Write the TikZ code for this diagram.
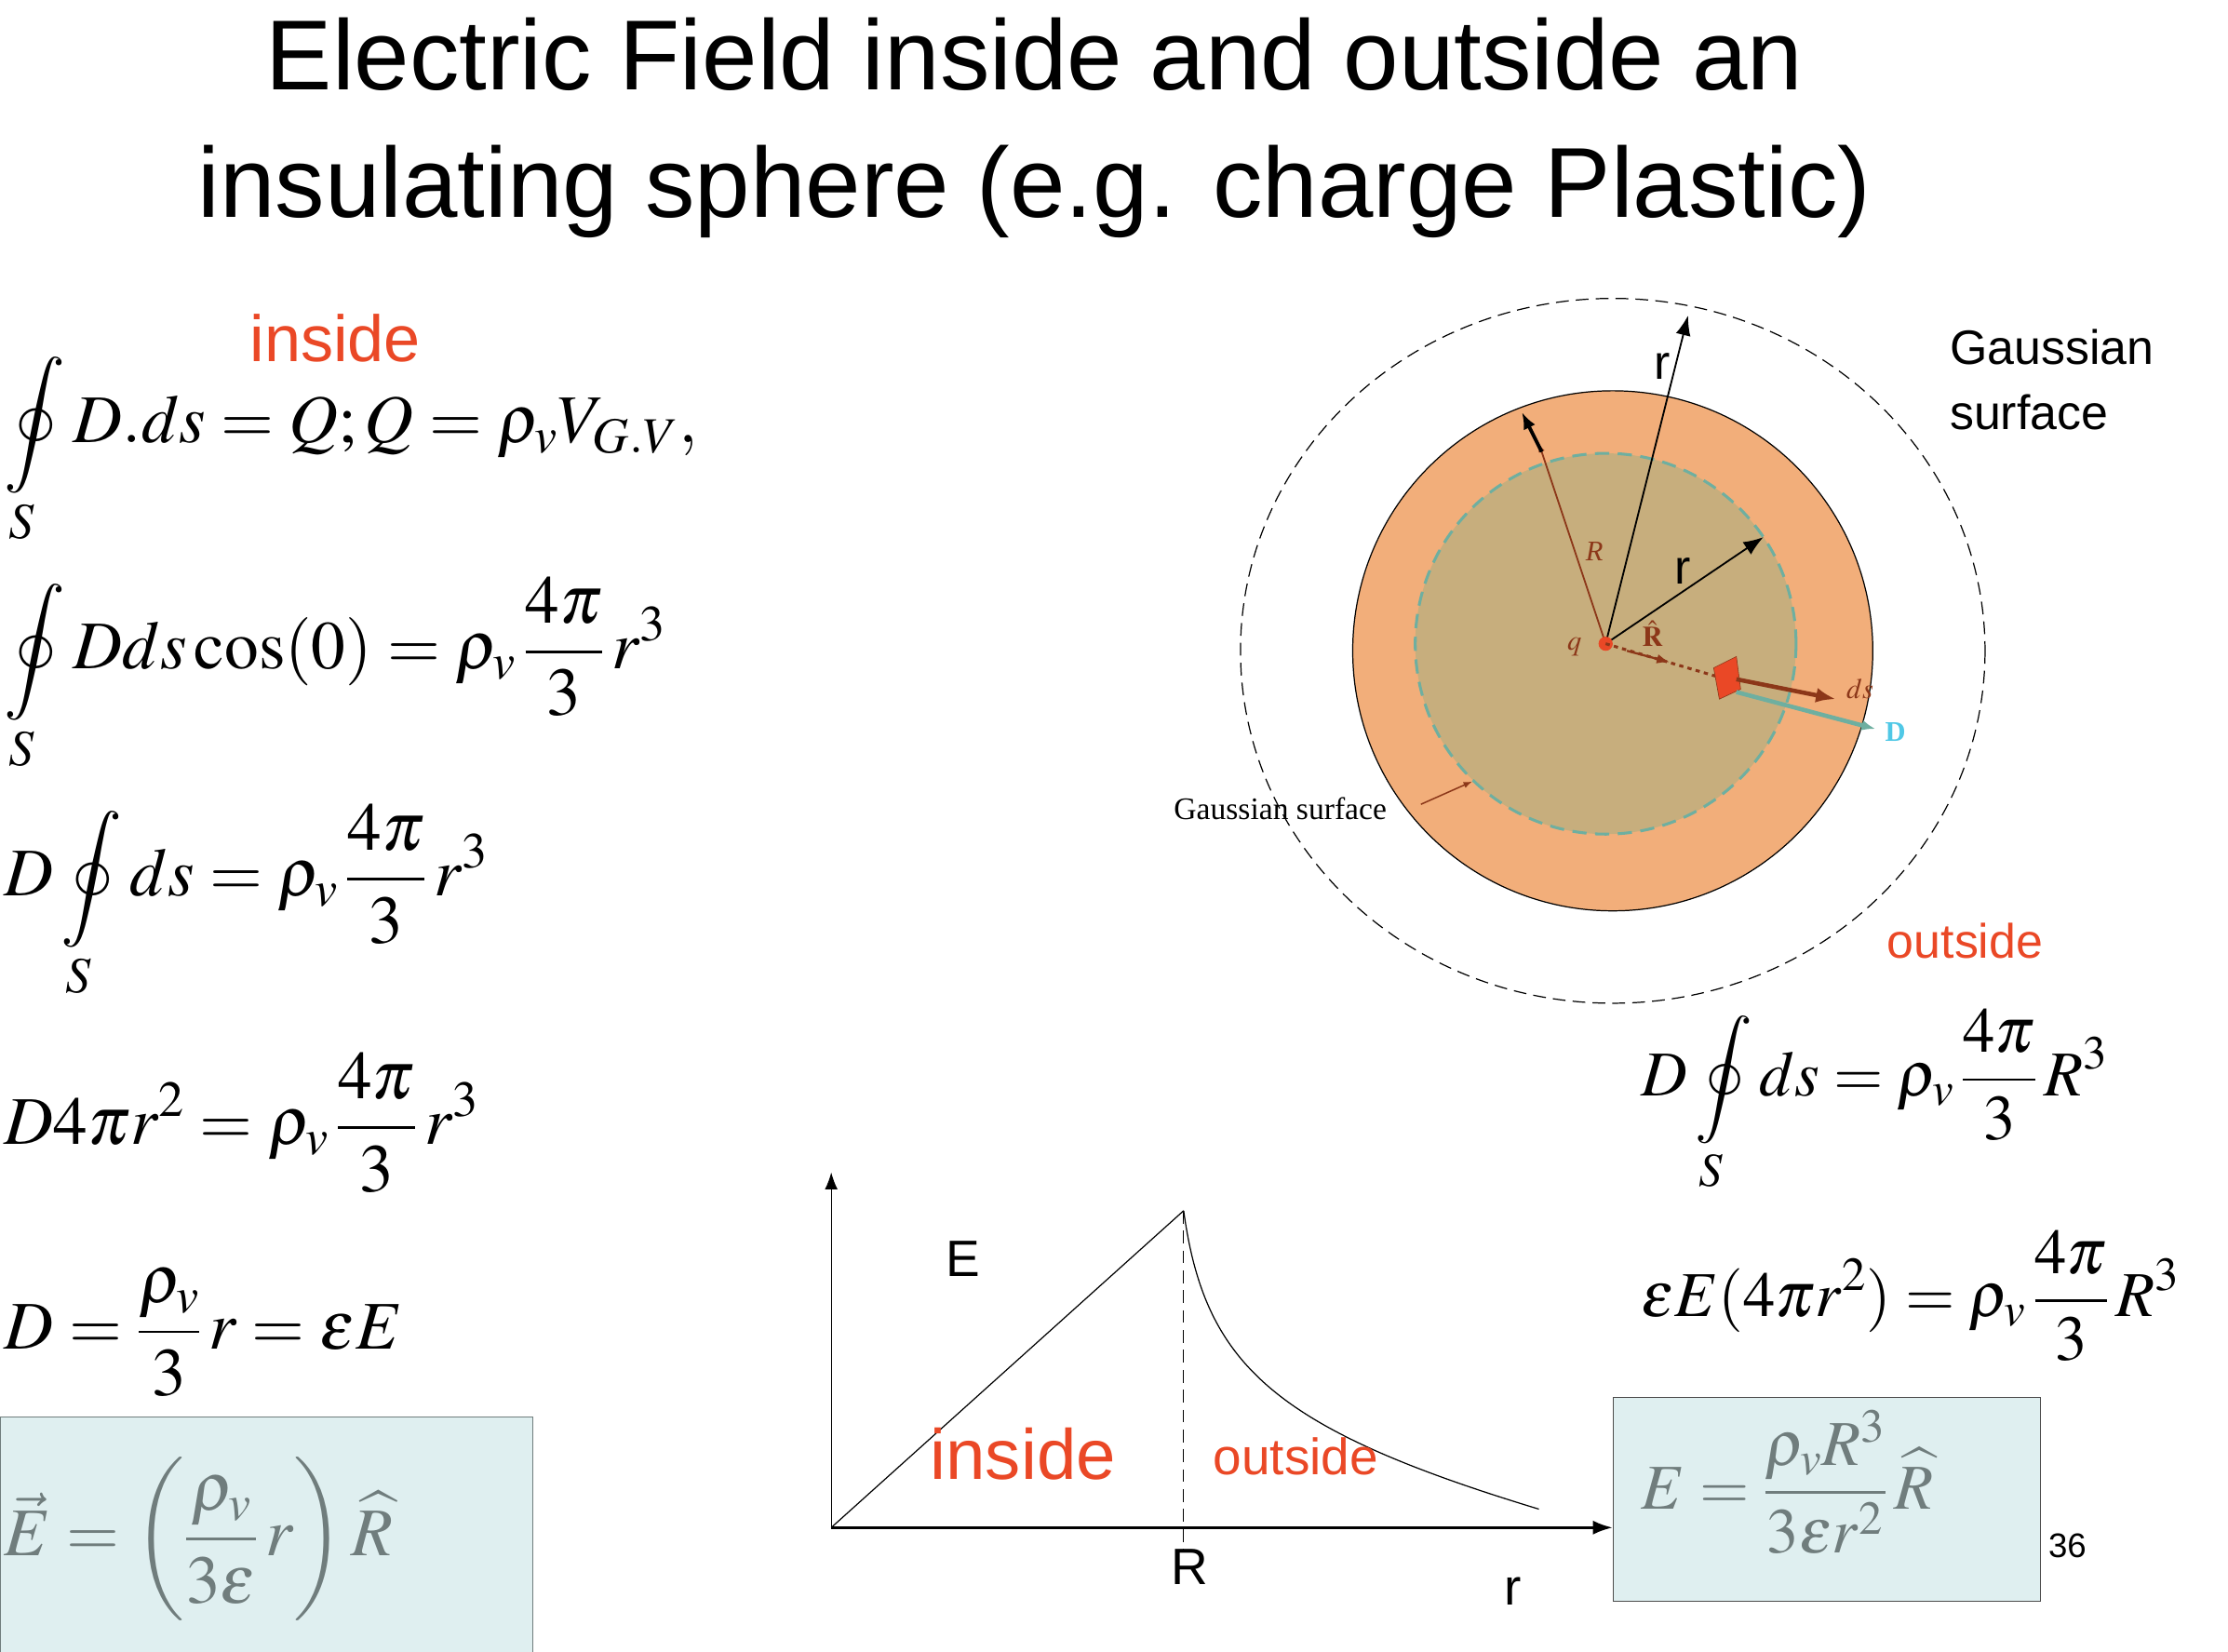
\documentclass[tikz,border=0pt]{standalone}
\usepackage{mathptmx}
\usepackage{amsmath}
\usepackage{fontspec}
\setmainfont{Liberation Sans}
\usetikzlibrary{arrows.meta}
\definecolor{myred}{RGB}{234,72,38}
\definecolor{orng}{RGB}{242,174,122}
\definecolor{inner}{RGB}{199,174,125}
\definecolor{brwn}{RGB}{140,55,25}
\definecolor{boxbg}{RGB}{223,239,240}
\definecolor{graytxt}{RGB}{112,125,125}
\definecolor{teal2}{RGB}{110,175,160}
\definecolor{cyan2}{RGB}{80,200,230}
\tikzset{
  sz/.style={font=\fontsize{#1}{#1}\selectfont},
  eq/.style={anchor=west,inner sep=0pt,sz=48},
  eqr/.style={anchor=west,inner sep=0pt,sz=45},
  lbl/.style={inner sep=0pt,sz=#1},
  longdash/.style={dash pattern=on 9pt off 5pt},
}
\begin{document}
\begin{tikzpicture}[x=1pt,y=-1pt]
\useasboundingbox (0,0) rectangle (1568,1162);
% title
\node[lbl=70] (t1) at (728,38) {Electric Field inside and outside an};
\node[lbl=70] (t2) at (728,135) {insulating sphere (e.g. charge Plastic)};
% left equations
\node[lbl=46,text=myred] (ins) at (236,238) {inside};
\node[eq] (e1) at (3,318) {$\displaystyle\oint\limits_S D.ds = Q;Q=\rho_v V_{G.V},$};
\node[eq] (e2) at (3,475) {$\displaystyle\oint\limits_S D ds\cos(0) = \rho_v\,\frac{4\pi}{3}\,r^3$};
\node[eq] (e3) at (3,635) {$\displaystyle D\oint\limits_S ds = \rho_v\,\frac{4\pi}{3}\,r^3$};
\node[eq] (e4) at (3,790) {$\displaystyle D4\pi r^2 = \rho_v\,\frac{4\pi}{3}\,r^3$};
\node[eq] (e5) at (3,938) {$\displaystyle D=\frac{\rho_v}{3}\,r=\varepsilon E$};
\draw[draw=graytxt,fill=boxbg] (0,997) rectangle (375,1175);
\node[eq,text=graytxt] (e6) at (3,1083) {$\displaystyle\vec{E}=\left(\frac{\rho_v}{3\varepsilon}\,r\right)\widehat{R}$};
% right equations
\node[eqr] (e7) at (1155,775) {$\displaystyle D\oint\limits_S ds = \rho_v\,\frac{4\pi}{3}\,R^3$};
\node[eqr] (e8) at (1155,912) {$\displaystyle \varepsilon E(4\pi r^2) = \rho_v\,\frac{4\pi}{3}\,R^3$};
\draw[draw=black!70,fill=boxbg] (1135,983) rectangle (1436,1127);
\node[eqr,text=graytxt] (e9) at (1155,1043) {$\displaystyle E=\frac{\rho_v R^3}{3\varepsilon r^2}\,\widehat{R}$};
\node[lbl=24] (n36) at (1455,1088) {36};
% graph
\coordinate (O) at (585,1075);
\coordinate (Ytop) at (585,825);
\coordinate (Xend) at (1135,1075);
\coordinate (P) at (833,852);
\coordinate (Pb) at (833,1092);
\coordinate (C) at (1083,1062);
\draw[-{Latex[length=12pt]},line width=0.8pt] (O) -- (Ytop);
\draw[-{Latex[length=14pt,width=10pt]},line width=2pt] (O) -- (Xend);
\draw[line width=0.8pt] (O) -- (P);
\draw[line width=0.8pt] (P) .. controls (848,960) and (895,1005) .. (C);
\draw[longdash,line width=0.7pt] (P) -- (Pb);
\node[lbl=36] (lE) at (678,886) {E};
\node[lbl=36] (lR) at (837,1103) {R};
\node[lbl=36] (lr) at (1065,1120) {r};
\node[lbl=50,text=myred] (ins2) at (720,1023) {inside};
\node[lbl=36,text=myred] (out2) at (912,1025) {outside};
% sphere
\draw[longdash,line width=0.8pt] (1135,458) ellipse [x radius=262,y radius=248];
\draw[fill=orng,line width=0.8pt] (1135,458) circle (183);
\draw[dash pattern=on 10pt off 6pt,draw=teal2,line width=2pt,fill=inner] (1130,453) circle (134);
\coordinate (q) at (1130,453);
\draw[brwn,line width=1.2pt,-{Latex[length=6pt]}] (q) -- (1083,312);
\draw[black,line width=2.5pt,-{Latex[length=12pt]}] (1085,318) -- (1071,290);
\draw[line width=1.2pt,-{Latex[length=14pt]}] (q) -- (1188,222);
\draw[line width=1.2pt,-{Latex[length=14pt]}] (q) -- (1241,378);
\node[lbl=34] (lr1) at (1170,258) {r};
\node[lbl=34] (lr2) at (1184,402) {r};
\node[lbl=20,text=brwn] (lRs) at (1122,388) {\fontspec{Liberation Serif}\itshape R};
\node[lbl=20,text=brwn] (lRh) at (1163,446) {\fontspec{Liberation Serif}\bfseries $\hat{\mathbf{R}}$};
\node[lbl=20,text=brwn] (lq) at (1108,455) {$q$};
\fill[myred] (q) circle (5);
\draw[brwn,dashed,line width=2pt] (q) -- (1208,476);
\draw[brwn,line width=1.5pt,-{Latex[length=9pt]}] (1145,458) -- (1175,466);
\fill[myred,draw=brwn] (1206,470) -- (1222,462) -- (1225,485) -- (1210,492) -- cycle;
\draw[teal2,line width=3pt,-{Latex[length=10pt]}] (1222,487) -- (1320,513);
\draw[brwn,line width=3pt,-{Latex[length=14pt]}] (1222,478) -- (1292,492);
\node[lbl=20,text=brwn] (lds) at (1309,485) {$ds$};
\node[lbl=20,text=cyan2] (lD) at (1334,515) {\fontspec{Liberation Serif}\bfseries D};
\node[lbl=22,anchor=west] (gs) at (826,569) {\fontspec{Liberation Serif}Gaussian surface};
\draw[brwn,line width=1pt,-{Latex[length=6pt]}] (1000,566) -- (1036,550);
\node[lbl=34,anchor=west,align=left] (gs2) at (1372,267) {Gaussian\\[12pt]surface};
\node[lbl=34,text=myred] (out1) at (1383,662) {outside};
\end{tikzpicture}
\end{document}
